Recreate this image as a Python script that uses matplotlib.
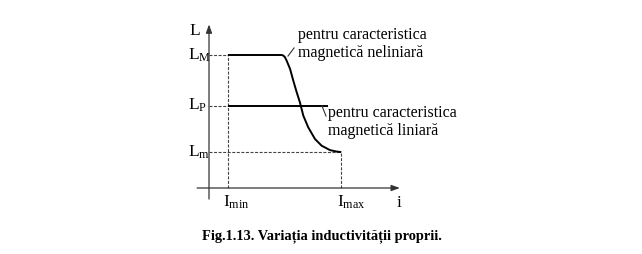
import matplotlib.pyplot as plt
import numpy as np

plt.rcParams['font.family'] = ['Liberation Serif', 'DejaVu Serif']
plt.rcParams['mathtext.fontset'] = 'custom'
plt.rcParams['mathtext.rm'] = 'Liberation Serif'
plt.rcParams['mathtext.it'] = 'Liberation Serif'

# current values (arbitrary units) and inductance levels
i_min = 1.0
i_max = 7.0
L_M = 10.0
L_P = 6.2
L_m = 2.7

# non-linear characteristic
i_curve = [1.0, 3.85, 3.94, 4.02, 4.11, 4.29, 4.46, 4.64, 4.81, 4.99, 5.25, 5.61, 5.96, 6.4, 6.75, 7.0]
L_curve = [10.0, 10.0, 9.95, 9.83, 9.57, 8.95, 8.07, 7.2, 6.44, 5.44, 4.56, 3.68, 3.18, 2.85, 2.74, 2.7]

# linear characteristic
i_lin = [1.0, 6.3]
L_lin = [L_P, L_P]

fig = plt.figure(figsize=(6.42, 2.55), dpi=100)
ax = fig.add_axes([0, 0, 1, 1])
# origin of the drawing sits at pixel (209, 189)
sx, sy = 18.9, 13.3
ax.set_xlim(-209 / sx, (642 - 209) / sx)
ax.set_ylim(-(255 - 189) / sy, 189 / sy)
ax.axis('off')

axc = '#333333'
# axes with arrows
ax.annotate('', xy=(10.1, 0), xytext=(-0.63, 0),
            arrowprops=dict(arrowstyle='-|>,head_length=0.5,head_width=0.18', color=axc, lw=0.9, shrinkA=0, shrinkB=0))
ax.annotate('', xy=(0, 12.3), xytext=(0, -0.83),
            arrowprops=dict(arrowstyle='-|>,head_length=0.5,head_width=0.18', color=axc, lw=0.9, shrinkA=0, shrinkB=0))

dash = dict(color='#444444', lw=0.8, dashes=(2.7, 1.4))
ax.plot([0, i_min], [L_M, L_M], **dash)
ax.plot([0, i_min], [L_P, L_P], **dash)
ax.plot([0, i_max], [L_m, L_m], **dash)
ax.plot([i_min, i_min], [0, L_M], **dash)
ax.plot([i_max, i_max], [0, L_m], **dash)

ax.plot(i_curve, L_curve, color='black', lw=1.4, solid_capstyle='butt', solid_joinstyle='round')
ax.plot(i_lin, L_lin, color='black', lw=1.4, solid_capstyle='butt')

# leader lines for the notes
ax.plot([4.18, 4.5], [9.92, 10.53], color='#333333', lw=0.8)
ax.plot([5.98, 6.19], [6.17, 5.41], color='#333333', lw=0.8)

fs = 12.5
ax.text(-1.06, 11.58, 'L', fontsize=fs, va='baseline', ha='left')
ax.text(-1.11, 9.7, r'$\mathrm{L_M}$', fontsize=fs, va='baseline', ha='left')
ax.text(-1.11, 5.94, r'$\mathrm{L_P}$', fontsize=fs, va='baseline', ha='left')
ax.text(-1.11, 2.43, r'$\mathrm{L_m}$', fontsize=fs, va='baseline', ha='left')
ax.text(0.74, -1.35, r'$\mathrm{I_{min}}$', fontsize=fs, va='baseline', ha='left')
ax.text(6.77, -1.35, r'$\mathrm{I_{max}}$', fontsize=fs, va='baseline', ha='left')
ax.text(9.95, -1.35, 'i', fontsize=fs, va='baseline', ha='left')

fn = 11.5
ax.text(4.71, (189 - 39) / sy, 'pentru caracteristica', fontsize=fn, va='baseline')
ax.text(4.71, (189 - 57) / sy, 'magnetică neliniară', fontsize=fn, va='baseline')
ax.text(6.3, (189 - 117) / sy, 'pentru caracteristica', fontsize=fn, va='baseline')
ax.text(6.3, (189 - 135) / sy, 'magnetică liniară', fontsize=fn, va='baseline')

fig.text(322 / 642, 1 - 239 / 255, 'Fig.1.13. Variația inductivității proprii.',
         fontsize=10.4, fontweight='bold', ha='center', va='baseline')

fig.savefig('out.png', dpi=100)
